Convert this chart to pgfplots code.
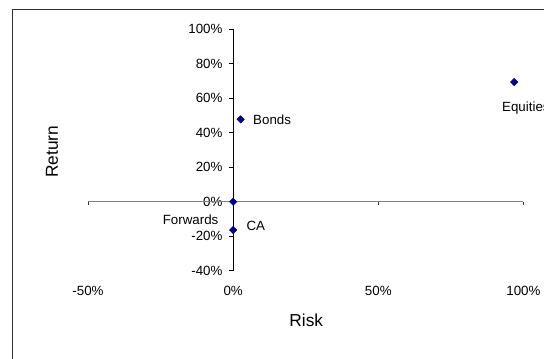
\documentclass[border=0pt]{standalone}
\usepackage{pgfplots}
\pgfplotsset{compat=1.18}
\usepackage{fontspec}
\setmainfont{Liberation Sans}
\definecolor{navy}{HTML}{000080}
\definecolor{axgrey}{HTML}{808080}
\begin{document}
\begin{tikzpicture}[x=0.75pt,y=0.75pt]
\useasboundingbox (0,0) rectangle (544,358);
\draw[color=black!80, line width=0.75pt] (12.5,-20) -- (12.5,348) -- (570,348);
\node[font=\fontsize{13}{15}\selectfont, rotate=90] at (52,206.3) {Return};
\node[font=\fontsize{13}{15}\selectfont] at (306.3,37.3) {Risk};
\begin{axis}[
  at={(66pt,65.475pt)}, anchor=south west,
  scale only axis, width=326.6pt, height=181.05pt,
  xmin=-50, xmax=100, ymin=-40, ymax=100,
  clip=false,
  axis x line=bottom, axis y line=center,
  hide obscured x ticks=false, hide obscured y ticks=false,
  x axis line style={draw=none},
  y axis line style={-, black, line width=0.6pt},
  xtick={-50,0,50,100}, xticklabels={-50\%,0\%,50\%,100\%},
  ytick={-40,-20,0,20,40,60,80,100},
  yticklabels={-40\%,-20\%,0\%,20\%,40\%,60\%,80\%,100\%},
  x tick style={draw=none},
  y tick style={black, line width=0.6pt},
  tick align=outside,
  major tick length=3.25pt,
  /pgf/number format/assume math mode=true,
  tick label style={font=\fontsize{10}{12}\selectfont},
  xticklabel style={anchor=center, yshift=-12pt},
  yticklabel style={xshift=-1.2pt},
  mystyle/.style={only marks, mark=diamond*, mark size=2.75pt, color=navy, mark options={xscale=1.33, fill=navy, draw=navy}},
]
\draw[axgrey, line width=0.8pt] (axis cs:-50,0) -- (axis cs:100,0);
\draw[black!80, line width=0.6pt] (axis cs:-50,0) -- ++(0pt,-2.5pt);
\draw[black!80, line width=0.6pt] (axis cs:50,0) -- ++(0pt,-2.5pt);
\draw[black!80, line width=0.6pt] (axis cs:100,0) -- ++(0pt,-2.5pt);
\addplot[mystyle] coordinates {(0,0)} node[anchor=east, inner sep=0, xshift=-10.9pt, yshift=-13.2pt, font=\fontsize{10}{12}\selectfont, black] {Forwards};
\addplot[mystyle] coordinates {(0,-16.4)} node[anchor=west, inner sep=0, xshift=9.9pt, yshift=2.7pt, font=\fontsize{10}{12}\selectfont, black] {CA};
\addplot[mystyle] coordinates {(2.6,47.8)} node[anchor=west, inner sep=0, xshift=9.2pt, font=\fontsize{10}{12}\selectfont, black] {Bonds};
\addplot[mystyle] coordinates {(96.8,69.4)} node[anchor=west, inner sep=0, xshift=-9.2pt, yshift=-19.8pt, font=\fontsize{10}{12}\selectfont, black] {Equities};
\end{axis}
\end{tikzpicture}
\end{document}
